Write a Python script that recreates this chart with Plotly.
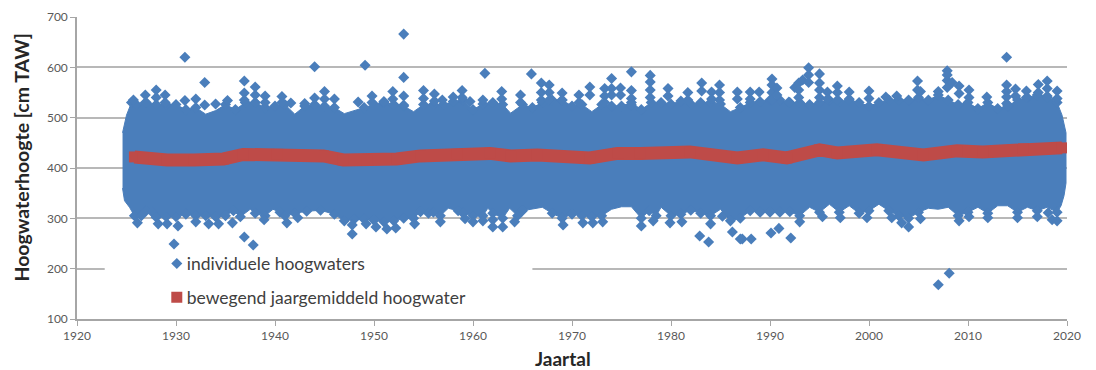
import plotly.graph_objects as go

# Solid mass of individual high waters: upper and lower edge
top_years = [1924.6,1925,1925.5,1926,1927,1928,1929,1930,1931,1932,1933,1934,1935,1936,1937,1938,1939,1940,1941,1942,1943,1944,1945,1946,1947,1948,1949,1950,1951,1952,1953,1954,1955,1956,1957,1958,1959,1960,1961,1962,1963,1963.8,1965,1966,1967,1968,1969,1970,1971,1972,1973,1974,1975,1976,1977,1978,1979,1980,1981,1982,1983,1984,1985,1986,1987,1988,1989,1990,1991,1992,1993,1994,1995,1996,1997,1998,1999,2000,2001,2002,2003,2004,2005,2006,2007,2008,2009,2010,2011,2012,2013,2014,2015,2016,2017,2018,2019,2019.5,2019.9]
top_values = [470,505,530,526,530,526,526,526,516,520,507,514,526,516,530,530,520,523,526,507,523,526,523,520,508,514,520,526,530,526,523,512,526,526,526,532,535,516,527,530,526,509,526,520,530,535,535,523,526,512,526,523,523,530,516,530,530,527,533,527,530,530,527,512,520,530,532,535,535,530,530,526,530,535,532,535,530,523,530,535,535,535,540,535,545,535,526,530,518,530,518,523,535,540,545,543,530,505,470]
bottom_years = [1924.6,1924.8,1925.3,1925.8,1926.5,1927,1927.6,1928,1929,1930,1931,1932,1933,1934,1935,1935.8,1936.5,1937.5,1938,1939,1939.8,1940.5,1941,1942,1943.2,1944.6,1946,1947,1948,1949,1950,1951,1952,1953,1954,1954.7,1955.5,1956,1956.7,1957.5,1958.5,1959,1960,1961,1961.5,1962,1963,1963.7,1964.5,1965,1966,1967,1968,1969,1970,1971,1972,1973,1974,1975,1976,1977,1977.8,1978.5,1979,1980,1981,1982,1983,1984,1985,1986,1987,1988,1989,1990,1991,1992,1993,1994,1995,1996,1997,1998,1999,2000,2001,2002,2003,2004,2005,2006,2007,2008,2009,2010,2011,2012,2013,2014,2015,2016,2017,2018,2019,2019.4,2019.7,2019.9]
bottom_values = [360,335,322,305,305,315,312,302,303,303,308,305,305,303,305,315,303,318,310,305,318,312,305,310,314,316,308,295,298,298,296,293,295,300,300,313,310,312,305,320,315,310,305,305,320,310,300,320,305,315,318,322,310,300,308,305,303,305,318,323,323,300,315,305,322,305,308,316,310,305,318,295,300,315,312,312,312,313,305,322,312,328,312,325,310,315,328,315,305,300,312,320,318,322,305,312,322,310,325,325,312,322,315,322,312,325,345,370]

# Individual high waters that stand clear of the mass
high_years = [1925.7,1926.9,1926.9,1928,1928,1928.9,1928.9,1930.9,1930.9,1932,1932.9,1932.9,1934,1935.2,1936.9,1936.9,1936.9,1938,1938,1938,1939,1939,1940.7,1940.7,1941.6,1943,1944,1944,1945,1945,1946,1948.4,1949.1,1949.8,1949.8,1951,1951.9,1951.9,1953,1953,1953,1953,1955,1955,1956.1,1956.1,1956.9,1958,1958.9,1958.9,1959.7,1961,1961.2,1962.9,1962.9,1964.8,1964.8,1965.9,1966.9,1966.9,1966.9,1967.7,1967.7,1967.7,1969,1969,1970.7,1970.7,1971.8,1971.8,1973.3,1973.3,1973.3,1974,1974,1974,1974.9,1974.9,1976,1976,1976,1976,1977.9,1977.9,1977.9,1977.9,1979.7,1979.7,1981.7,1981.7,1983.1,1983.1,1984.1,1984.1,1984.9,1984.9,1984.9,1986.7,1986.7,1988,1988,1988.9,1990.2,1990.2,1990.2,1990.2,1990.7,1990.7,1991.9,1992.5,1992.9,1992.9,1992.9,1993.3,1993.9,1993.9,1993.9,1995,1995,1995,1995,1995.8,1995.8,1996.8,1996.8,1996.8,1998,1998,2000,2000,2001.7,2002.8,2004.9,2004.9,2005.2,2007,2007.9,2007.9,2007.9,2007.9,2008.4,2009.1,2009.1,2010.1,2010.1,2011.9,2013.9,2013.9,2013.9,2013.9,2013.9,2014.8,2014.8,2015.9,2015.9,2017.1,2017.1,2018,2018,2018,2019,2019]
high_values = [535,545,530,555,540,545,530,620,534,537,570,525,527,534,573,549,535,561,545,530,543,530,542,530,529,528,601,539,552,537,537,531,604,543,530,532,552,537,666,580,543,525,554,538,547,533,535,541,554,540,532,535,588,552,537,545,530,587,569,550,535,565,550,535,549,535,545,530,561,545,558,543,530,578,558,545,559,545,591,554,538,525,584,571,555,540,558,543,550,535,569,553,551,537,565,550,535,551,537,551,537,551,577,565,550,535,559,545,531,560,569,555,540,575,599,585,570,587,569,555,540,551,537,563,550,535,551,537,553,538,541,543,573,555,552,552,593,574,585,560,570,563,548,555,540,541,620,565,552,541,528,557,543,553,540,566,550,573,558,540,553,538]
low_years = [1926.1,1928.2,1929.1,1929.8,1930.2,1932,1933.3,1934.3,1935.7,1936.9,1937.8,1938.9,1941.2,1942.3,1947.8,1947.8,1949.2,1950.2,1951.3,1952.2,1954.1,1956.7,1959.2,1960,1961,1962,1962,1963,1964.2,1969.1,1971.1,1972.1,1973.1,1977,1978.2,1979.9,1981.1,1982.9,1983.8,1984,1985.2,1986.2,1987,1987.2,1988.1,1990.1,1990.9,1992.1,1993,1995.3,1997.1,1999.8,2002.3,2003.3,2004,2005.2,2007,2008.1,2009.1,2010.1,2012,2015,2017,2018.1,2018.5,2019]
low_values = [291,289,289,249,285,293,289,289,291,263,247,297,291,301,269,287,289,283,279,281,289,293,299,293,295,297,283,283,293,287,291,291,293,285,295,291,293,265,253,289,304,273,259,259,259,271,280,261,293,303,301,301,301,291,283,299,168,191,295,303,301,301,303,311,297,295]

# Moving yearly mean high water
mean_years = [1925.8,1926.7,1929.1,1931.8,1934.8,1936.8,1940.2,1944.9,1946.9,1949.3,1952.3,1954.7,1958.4,1961.7,1963.8,1966.5,1971.8,1974.6,1976.9,1981.9,1986.7,1989.3,1991.7,1995,1996.8,2000.8,2005.5,2008.9,2011.5,2015.6,2019.5]
mean_values = [422,420,416,416,418,427,427,424,416,415,418,424,427,429,424,426,420,429,429,432,420,426,420,436,430,436,426,434,432,438,440]

x_ticks = [1920,1930,1940,1950,1960,1970,1980,1990,2000,2010,2020]
y_ticks = [100,200,300,400,500,600,700]
name_points = "individuele hoogwaters"
name_mean = "bewegend jaargemiddeld hoogwater"
x_title = "Jaartal"
y_title = "Hoogwaterhoogte [cm TAW]"

BLUE = "#4a7ebb"
RED = "#be4b48"
GRID = "#b8b8b8"
AXIS = "#a6a6a6"
TICK = "#595959"
FONT = "Lato"

# Edge points that are not notches also appear as diamonds along the mass
edge_top = [(y, v) for y, v in zip(top_years[2:-2], top_values[2:-2]) if v >= 516]
edge_bottom = [(y, v) for y, v in zip(bottom_years[3:-3], bottom_values[3:-3]) if v <= 316]
point_x = [y for y, _ in edge_top] + [y for y, _ in edge_bottom] + high_years + low_years
point_y = [v for _, v in edge_top] + [v for _, v in edge_bottom] + high_values + low_values

fig = go.Figure()
fig.add_trace(go.Scatter(
    x=top_years + bottom_years[::-1], y=top_values + bottom_values[::-1],
    mode="lines", fill="toself", fillcolor=BLUE, line=dict(color=BLUE, width=1),
    showlegend=False, hoverinfo="skip"))
fig.add_trace(go.Scatter(
    x=point_x, y=point_y, mode="markers", name=name_points,
    legendgroup="a", marker=dict(symbol="diamond", size=8.5, color=BLUE)))
fig.add_trace(go.Scatter(
    x=mean_years, y=mean_values, mode="lines", line=dict(color=RED, width=13),
    showlegend=False, hoverinfo="skip"))
fig.add_trace(go.Scatter(
    x=mean_years, y=mean_values, mode="markers", name=name_mean,
    legendgroup="b", marker=dict(symbol="square", size=11, color=RED)))

fig.update_layout(
    width=1096, height=370,
    margin=dict(l=76.5, r=29, t=17, b=51, autoexpand=False),
    paper_bgcolor="white", plot_bgcolor="white",
    font=dict(family=FONT, color=TICK),
    showlegend=True,
    legend=dict(
        x=0.0705, y=0.243, xanchor="left", yanchor="top",
        bgcolor="rgba(0,0,0,0)", traceorder="grouped", tracegroupgap=8,
        font=dict(family=FONT, size=17.5, color="#404040"), itemsizing="trace"),
    shapes=[dict(type="rect", layer="between", xref="x", yref="y", x0=1922.8, x1=1966,
                 y0=190, y1=210, fillcolor="white", line_width=0)],
    annotations=[
        dict(text=y_title, xref="paper", yref="paper", x=-0.0565, y=0.5, yshift=10.5, textangle=-90,
             showarrow=False, xanchor="center", yanchor="middle",
             font=dict(family=FONT, size=19.5, color="#262626", weight="bold")),
        dict(text=x_title, xref="paper", yref="paper", x=0.4913, y=-0.131, showarrow=False,
             xanchor="center", yanchor="middle",
             font=dict(family=FONT, size=19, color="#262626", weight="bold")),
    ],
)
fig.update_xaxes(
    range=[1920, 2020], tickvals=x_ticks, ticks="outside", ticklen=5, tickcolor=AXIS,
    showgrid=False, showline=True, linecolor=AXIS, linewidth=1.5, zeroline=False,
    tickfont=dict(family=FONT, size=12, color=TICK))
fig.update_yaxes(
    range=[100, 700], tickvals=y_ticks, ticks="outside", ticklen=5, tickcolor=AXIS,
    showgrid=True, gridcolor=GRID, gridwidth=1.5, showline=True, linecolor=AXIS, linewidth=1.5,
    zeroline=False, tickfont=dict(family=FONT, size=12, color=TICK))

fig.write_html(
    "out.html",
    config=dict(displayModeBar=False),
    post_script="document.body.style.margin='0';"
                "document.querySelectorAll('.legendsymbols').forEach(function(g){g.setAttribute('transform','translate(10,0)');});")
